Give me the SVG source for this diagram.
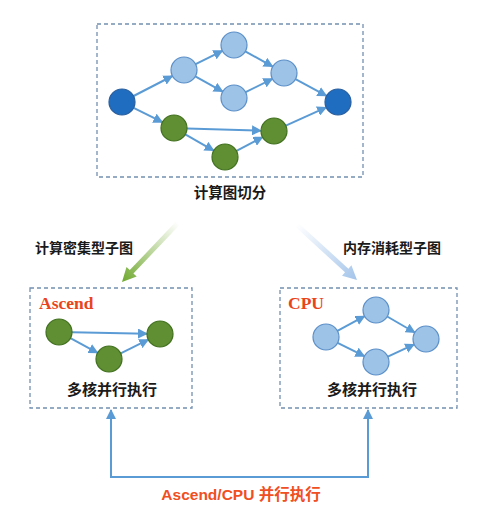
<svg xmlns="http://www.w3.org/2000/svg" width="503" height="520" viewBox="0 0 503 520">
<defs>
<style>
.box{fill:none;stroke:#7390b0;stroke-width:1.3;stroke-dasharray:4 3}
.e{stroke:#5b9bd5;stroke-width:2;fill:none;marker-end:url(#ah)}
.lb{fill:#9dc3e6;stroke:#5b8fc9;stroke-width:1.2}
.db{fill:#1f6dc1;stroke:#2a5f9e;stroke-width:1.2}
.gn{fill:#5f8f32;stroke:#41701f;stroke-width:1.2}
.t{font-family:"Noto Sans CJK SC","Liberation Sans",sans-serif;font-weight:bold;fill:#1a1a1a}
.dev{font-family:"Liberation Serif",serif;font-weight:bold;fill:#e8451c}
</style>
<marker id="ah" viewBox="0 0 10 10" refX="9" refY="5" markerWidth="5" markerHeight="5" orient="auto-start-reverse">
<path d="M0,0 L10,5 L0,10 Z" fill="#5b9bd5"/>
</marker>
<linearGradient id="gg" gradientUnits="userSpaceOnUse" x1="178" y1="223" x2="122" y2="282">
<stop offset="0" stop-color="#7aad3a" stop-opacity="0"/>
<stop offset="1" stop-color="#6ea82e"/>
</linearGradient>
<linearGradient id="bg" gradientUnits="userSpaceOnUse" x1="297" y1="225" x2="357" y2="280">
<stop offset="0" stop-color="#a9c8ec" stop-opacity="0"/>
<stop offset="1" stop-color="#a3c4ea"/>
</linearGradient>
</defs>
<rect width="503" height="520" fill="#ffffff"/>

<g id="connectors">
<line class="e" x1="133.6" y1="96.0" x2="172.4" y2="76.0"/>
<line class="e" x1="195.6" y1="64.2" x2="222.4" y2="50.8"/>
<line class="e" x1="195.3" y1="76.4" x2="222.7" y2="91.6"/>
<line class="e" x1="245.3" y1="51.4" x2="272.7" y2="66.6"/>
<line class="e" x1="245.6" y1="92.2" x2="272.4" y2="78.8"/>
<line class="e" x1="295.5" y1="79.1" x2="326.5" y2="95.8"/>
<line class="e" x1="133.6" y1="107.8" x2="162.4" y2="122.2"/>
<line class="e" x1="187" y1="128.4" x2="261" y2="130.6"/>
<line class="e" x1="185.3" y1="134.4" x2="213.7" y2="150.6"/>
<line class="e" x1="236.5" y1="150.9" x2="262.5" y2="137.1"/>
<line class="e" x1="285.8" y1="125.6" x2="326.2" y2="107.4"/>

<line class="e" x1="72" y1="332.3" x2="147" y2="333.7"/>
<line class="e" x1="70.4" y1="338.2" x2="97.6" y2="352.8"/>
<line class="e" x1="120.7" y1="353.3" x2="148.3" y2="339.7"/>

<line class="e" x1="337.4" y1="330.8" x2="364.6" y2="316.2"/>
<line class="e" x1="337.6" y1="342.8" x2="364.4" y2="356.2"/>
<line class="e" x1="387.2" y1="316.5" x2="414.8" y2="332.5"/>
<line class="e" x1="387.8" y1="356.6" x2="414.2" y2="344.4"/>

<polygon fill="url(#gg)" points="179.8,224.7 133.4,273.5 136.7,276.6 122,282 126.5,267.0 129.8,270.1 176.2,221.3"/>
<polygon fill="url(#bg)" points="295.3,226.8 345.0,272.3 342.0,275.7 357,280 351.4,265.3 348.4,268.7 298.7,223.2"/>

<path d="M111,410 V477 H368 V410" fill="none" stroke="#5b9bd5" stroke-width="2" marker-start="url(#ah)" marker-end="url(#ah)"/>
</g>

<g id="partition">
<rect class="box" x="97" y="24" width="266" height="153"/>
<circle class="db" cx="122" cy="102" r="13"/>
<circle class="lb" cx="184" cy="70" r="13"/>
<circle class="lb" cx="234" cy="45" r="13"/>
<circle class="lb" cx="234" cy="98" r="13"/>
<circle class="lb" cx="284" cy="73" r="13"/>
<circle class="db" cx="338" cy="102" r="13"/>
<circle class="gn" cx="174" cy="128" r="13"/>
<circle class="gn" cx="274" cy="131" r="13"/>
<circle class="gn" cx="225" cy="157" r="13"/>
<text class="t" x="230" y="198" font-size="14.5" text-anchor="middle">计算图切分</text>
</g>

<g id="label-compute">
<text class="t" x="84" y="253" font-size="14" text-anchor="middle">计算密集型子图</text>
</g>
<g id="label-memory">
<text class="t" x="392" y="253" font-size="14" text-anchor="middle">内存消耗型子图</text>
</g>

<g id="ascend">
<rect class="box" x="30" y="288" width="162" height="120"/>
<text class="dev" x="39" y="309" font-size="17.5">Ascend</text>
<circle class="gn" cx="59" cy="332" r="13"/>
<circle class="gn" cx="160" cy="334" r="13"/>
<circle class="gn" cx="109" cy="359" r="13"/>
<text class="t" x="112" y="395" font-size="15" text-anchor="middle">多核并行执行</text>
</g>

<g id="cpu">
<rect class="box" x="280" y="288" width="177" height="120"/>
<text class="dev" x="288" y="309" font-size="17.5">CPU</text>
<circle class="lb" cx="326" cy="337" r="13"/>
<circle class="lb" cx="376" cy="310" r="13"/>
<circle class="lb" cx="376" cy="362" r="13"/>
<circle class="lb" cx="426" cy="339" r="13"/>
<text class="t" x="372" y="395" font-size="15" text-anchor="middle">多核并行执行</text>
</g>

<g id="parallel-label">
<text x="241" y="500" font-size="15.5" text-anchor="middle" font-family="'Liberation Sans','Noto Sans CJK SC',sans-serif" font-weight="bold" fill="#f04e23">Ascend/CPU 并行执行</text>
</g>
</svg>
